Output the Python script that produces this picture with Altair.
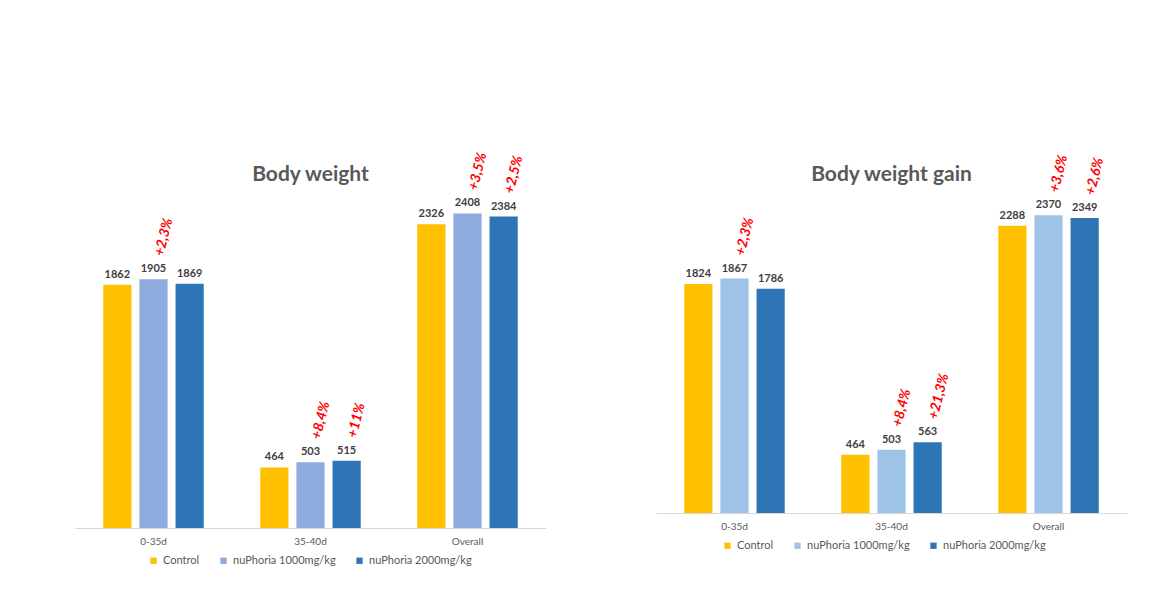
import altair as alt
import pandas as pd

periods = ["0-35d", "35-40d", "Overall"]
groups = ["Control", "nuPhoria 1000mg/kg", "nuPhoria 2000mg/kg"]

bw_control = [1862, 464, 2326]
bw_1000 = [1905, 503, 2408]
bw_2000 = [1869, 515, 2384]
bw_pct_1000 = ["+2,3%", "+8,4%", "+3,5%"]
bw_pct_2000 = ["", "+11%", "+2,5%"]

gain_control = [1824, 464, 2288]
gain_1000 = [1867, 503, 2370]
gain_2000 = [1786, 563, 2349]
gain_pct_1000 = ["+2,3%", "+8,4%", "+3,6%"]
gain_pct_2000 = ["", "+21,3%", "+2,6%"]

colors_left = ["#FFC000", "#8FAADC", "#2E75B6"]
colors_right = ["#FFC000", "#9DC3E6", "#2E75B6"]

FONT = "Lato"


def panel(title, vc, v1, v2, p1, p2, colors, height, lx, ly):
    rows = []
    for i, p in enumerate(periods):
        for g, vals, pct in zip(groups, [vc, v1, v2], [["", "", ""], p1, p2]):
            rows.append({"period": p, "group": g, "value": vals[i], "pct": pct[i]})
    df = pd.DataFrame(rows)
    base = alt.Chart(df).encode(
        x=alt.X("period:N", sort=periods,
                scale=alt.Scale(paddingInner=0.36, paddingOuter=0.18),
                axis=alt.Axis(title=None, labelAngle=0, ticks=False, domainColor="#d9d9d9",
                              labelColor="#595959", labelFontSize=10, labelPadding=8,
                              labelFont=FONT)),
        xOffset=alt.XOffset("group:N", sort=groups,
                            scale=alt.Scale(paddingInner=0.22, paddingOuter=0)),
        y=alt.Y("value:Q", scale=alt.Scale(domain=[0, 2970]), axis=None),
    )
    bars = base.mark_bar().encode(
        color=alt.Color("group:N", sort=groups,
                        scale=alt.Scale(domain=groups, range=colors),
                        legend=alt.Legend(title=None, orient="none", legendX=lx, legendY=ly,
                                          direction="horizontal", symbolType="square",
                                          symbolSize=40, symbolStrokeWidth=0,
                                          labelFontSize=11, labelColor="#595959",
                                          labelFont=FONT, columnPadding=18, labelOffset=4))
    )
    vlabels = base.mark_text(dy=-5, baseline="bottom", fontSize=11, fontWeight="bold",
                             color="#404040", font=FONT).encode(text=alt.Text("value:Q", format="d"))
    plabels = base.transform_filter("datum.pct != ''").mark_text(
        angle=284, align="left", baseline="middle", dx=24, fontSize=14,
        fontStyle="italic", fontWeight="bold", color="#FF0000", font=FONT
    ).encode(text="pct:N")
    return alt.layer(bars, vlabels, plabels).properties(
        width=471, height=height,
        title=alt.Title(title, fontSize=21, font=FONT, fontWeight="bold", color="#595959",
                        offset=-45, anchor="middle"),
    )


left = panel("Body weight", bw_control, bw_1000, bw_2000, bw_pct_1000, bw_pct_2000,
             colors_left, 388, 73, 415)
right = panel("Body weight gain", gain_control, gain_1000, gain_2000, gain_pct_1000,
              gain_pct_2000, colors_right, 373, 66, 400)

chart = alt.hconcat(left, right, spacing=110).resolve_scale(color="independent").properties(
    padding={"left": 67, "top": 132, "right": 5, "bottom": 5},
    background="white",
).configure_view(stroke=None)

chart.save("out.html", embed_options={"renderer": "svg", "actions": False})
